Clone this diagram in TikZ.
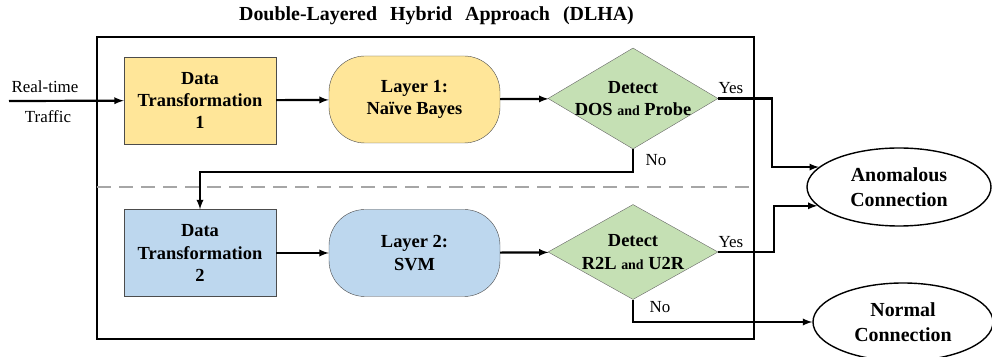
\documentclass[tikz,border=0pt]{standalone}
\usepackage{fontspec}
\setmainfont{Liberation Serif}
\usetikzlibrary{shapes.geometric}
\definecolor{dtyellow}{HTML}{FFE699}
\definecolor{dtblue}{HTML}{BDD7EE}
\definecolor{dtgreen}{HTML}{C5E0B4}
\tikzset{
  boxfont/.style={font=\bfseries\fontsize{18.5}{22.5}\selectfont},
  dtbox/.style={draw=black!70,rectangle,minimum width=152bp,minimum height=87bp,align=center,inner sep=0,boxfont},
  layerbox/.style={draw=black!70,rectangle,rounded corners=36bp,minimum width=171bp,minimum height=87bp,align=center,inner sep=0,boxfont},
  detect/.style={draw=black!60,diamond,fill=dtgreen,inner sep=0,minimum width=170bp},
  outcome/.style={draw,ellipse,line width=1.4bp,minimum width=184bp,minimum height=78bp,align=center,inner sep=0,font=\bfseries\fontsize{20}{25}\selectfont},
  flow/.style={->,line width=2.2bp},
  note/.style={font=\fontsize{17}{20}\selectfont,inner sep=0},
}
\begin{document}
\begin{tikzpicture}[>=latex,line join=miter]
    \useasboundingbox (0bp,0bp) rectangle (992bp,357bp);
    %% frame
    \node (title) at (436.5bp,341bp) [font=\bfseries\fontsize{20}{22}\selectfont] {Double-Layered\hspace{13bp}Hybrid\hspace{13bp}Approach\hspace{13bp}(DLHA)};
    \draw [line width=2.8bp] (97bp,18bp) rectangle (754bp,320bp);
    \draw [black!35,line width=1.6bp,dash pattern=on 14bp off 8bp] (97bp,170bp) -- (754bp,170bp);
    %% layer 1
    \node (dt1) at (200bp,256.5bp) [dtbox,fill=dtyellow] {Data\\Transformation\\1};
    \node (l1) at (414.5bp,257.5bp) [layerbox,fill=dtyellow] {Layer 1:\\Naïve Bayes};
    \node (d1) at (633bp,258.5bp) [detect,minimum height=101bp] {};
    \node (d1txt) at (d1) [boxfont,align=center,inner sep=0] {Detect\\DOS {\fontsize{14}{16}\selectfont and} Probe};
    %% layer 2
    \node (dt2) at (200bp,104bp) [dtbox,fill=dtblue] {Data\\Transformation\\2};
    \node (l2) at (414.5bp,104bp) [layerbox,fill=dtblue] {Layer 2:\\SVM};
    \node (d2) at (633bp,105bp) [detect,minimum height=95bp] {};
    \node (d2txt) at (d2) [boxfont,align=center,inner sep=0] {Detect\\R2L {\fontsize{14}{16}\selectfont and} U2R};
    %% outcomes
    \node (anom) at (899bp,170bp) [outcome] {Anomalous\\Connection};
    \node (norm) at (903bp,35bp) [outcome,minimum width=180bp] {Normal\\Connection};
    %% input
    \coordinate (src) at (9bp,256bp);
    \node (rt) at (45bp,270bp) [note] {Real-time};
    \node (tr) at (48bp,240bp) [note] {Traffic};
    \draw [flow] (src) -- (dt1);
    \draw [flow] (dt1) -- (l1);
    \draw [flow] (l1) -- (d1);
    \draw [flow] (dt2) -- (l2);
    \draw [flow] (l2) -- (d2);
    \draw [flow] (d1.east) -- ++(54bp,0bp) |- (anom.166);
    \draw [flow] (d2.east) -- ++(56bp,0bp) |- (anom.193);
    \draw [flow] (d1.south) -- ++(0bp,-23bp) -| (dt2.north);
    \draw [flow] (d2.south) |- (norm.west);
    \node (y1) at (731bp,269bp) [note] {Yes};
    \node (y2) at (731bp,115bp) [note] {Yes};
    \node (n1) at (656bp,197bp) [note] {No};
    \node (n2) at (660bp,50bp) [note] {No};
    %
\end{tikzpicture}
\end{document}
